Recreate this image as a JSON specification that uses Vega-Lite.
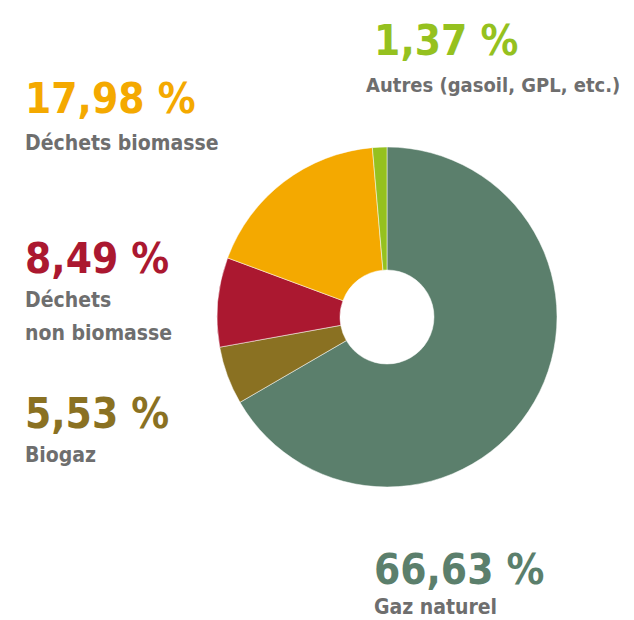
{
  "$schema": "https://vega.github.io/schema/vega-lite/v6.json",
  "width": 400,
  "height": 400,
  "autosize": {"type": "none"},
  "padding": {"left": 187, "top": 117, "right": 47, "bottom": 103},
  "background": "white",
  "config": {
    "view": {"stroke": null},
    "locale": {"number": {"decimal": ",", "thousands": "\u00a0", "grouping": [3], "currency": ["", "\u00a0€"], "percent": "\u00a0%"}}
  },
  "data": {
    "values": [
      {"rang": 1, "source": "Gaz naturel", "part": 0.6663},
      {"rang": 2, "source": "Biogaz", "part": 0.0553},
      {"rang": 3, "source": "Déchets\nnon biomasse", "part": 0.0849},
      {"rang": 4, "source": "Déchets biomasse", "part": 0.1798},
      {"rang": 5, "source": "Autres (gasoil, GPL, etc.)", "part": 0.0137}
    ]
  },
  "encoding": {
    "theta": {"field": "part", "type": "quantitative", "stack": true},
    "order": {"field": "rang", "type": "quantitative"}
  },
  "layer": [
    {
      "mark": {"type": "arc", "outerRadius": 170, "innerRadius": 47, "stroke": "white", "strokeWidth": 0.5},
      "encoding": {
        "color": {
          "field": "rang", "type": "nominal",
          "scale": {"domain": [1, 2, 3, 4, 5], "range": ["#5b7f6c", "#8a7122", "#ab1830", "#f4a900", "#95c11f"]},
          "legend": null
        }
      }
    },
    {
      "mark": {"type": "text", "radius": 200, "align": "left", "baseline": "alphabetic", "dx": -186.4, "dy": 167.2, "font": "DejaVu Sans Condensed, sans-serif", "fontWeight": "bold", "fontSize": 42, "color": "#5b7f6c"},
      "encoding": {"text": {"condition": {"test": "datum.rang === 1", "field": "part", "type": "quantitative", "format": ".2%"}, "value": ""}}
    },
    {
      "mark": {"type": "text", "radius": 200, "align": "left", "baseline": "alphabetic", "dx": -186.4, "dy": 197.2, "font": "DejaVu Sans Condensed, sans-serif", "fontWeight": "bold", "fontSize": 21, "color": "#6e6e6e"},
      "encoding": {"text": {"condition": {"test": "datum.rang === 1", "field": "source", "type": "nominal"}, "value": ""}}
    },
    {
      "mark": {"type": "text", "radius": 200, "align": "left", "baseline": "alphabetic", "dx": -174.3, "dy": 41.9, "font": "DejaVu Sans Condensed, sans-serif", "fontWeight": "bold", "fontSize": 42, "color": "#8a7122"},
      "encoding": {"text": {"condition": {"test": "datum.rang === 2", "field": "part", "type": "quantitative", "format": ".2%"}, "value": ""}}
    },
    {
      "mark": {"type": "text", "radius": 200, "align": "left", "baseline": "alphabetic", "dx": -174.3, "dy": 75.9, "font": "DejaVu Sans Condensed, sans-serif", "fontWeight": "bold", "fontSize": 21, "color": "#6e6e6e"},
      "encoding": {"text": {"condition": {"test": "datum.rang === 2", "field": "source", "type": "nominal"}, "value": ""}}
    },
    {
      "mark": {"type": "text", "radius": 200, "align": "left", "baseline": "alphabetic", "dx": -162.8, "dy": -26.6, "font": "DejaVu Sans Condensed, sans-serif", "fontWeight": "bold", "fontSize": 42, "color": "#ab1830"},
      "encoding": {"text": {"condition": {"test": "datum.rang === 3", "field": "part", "type": "quantitative", "format": ".2%"}, "value": ""}}
    },
    {
      "mark": {"type": "text", "radius": 200, "align": "left", "baseline": "alphabetic", "dx": -162.8, "dy": 7.4, "lineBreak": "\n", "lineHeight": 33, "font": "DejaVu Sans Condensed, sans-serif", "fontWeight": "bold", "fontSize": 21, "color": "#6e6e6e"},
      "encoding": {"text": {"condition": {"test": "datum.rang === 3", "field": "source", "type": "nominal"}, "value": ""}}
    },
    {
      "mark": {"type": "text", "radius": 200, "align": "left", "baseline": "alphabetic", "dx": -240.8, "dy": -44.9, "font": "DejaVu Sans Condensed, sans-serif", "fontWeight": "bold", "fontSize": 42, "color": "#f4a900"},
      "encoding": {"text": {"condition": {"test": "datum.rang === 4", "field": "part", "type": "quantitative", "format": ".2%"}, "value": ""}}
    },
    {
      "mark": {"type": "text", "radius": 200, "align": "left", "baseline": "alphabetic", "dx": -240.8, "dy": -7.9, "font": "DejaVu Sans Condensed, sans-serif", "fontWeight": "bold", "fontSize": 21, "color": "#6e6e6e"},
      "encoding": {"text": {"condition": {"test": "datum.rang === 4", "field": "source", "type": "nominal"}, "value": ""}}
    },
    {
      "mark": {"type": "text", "radius": 200, "align": "left", "baseline": "alphabetic", "dx": -4.3, "dy": -62.2, "font": "DejaVu Sans Condensed, sans-serif", "fontWeight": "bold", "fontSize": 42, "color": "#95c11f"},
      "encoding": {"text": {"condition": {"test": "datum.rang === 5", "field": "part", "type": "quantitative", "format": ".2%"}, "value": ""}}
    },
    {
      "mark": {"type": "text", "radius": 200, "align": "left", "baseline": "alphabetic", "dx": -12.3, "dy": -25.2, "font": "DejaVu Sans Condensed, sans-serif", "fontWeight": "bold", "fontSize": 20, "color": "#6e6e6e"},
      "encoding": {"text": {"condition": {"test": "datum.rang === 5", "field": "source", "type": "nominal"}, "value": ""}}
    }
  ]
}
